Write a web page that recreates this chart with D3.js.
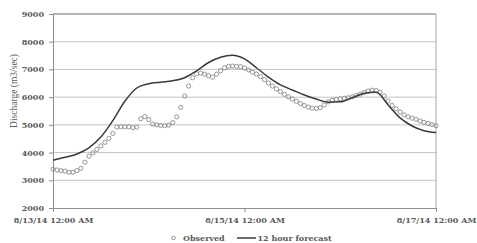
<!DOCTYPE html>
<html>
<head>
<meta charset="utf-8">
<title>Discharge: observed vs 12 hour forecast</title>
<script src="https://cdn.jsdelivr.net/npm/d3@7"></script>
<style>
  body { margin: 0; background: #fff; }
  .tick text { font-family: "DejaVu Serif", serif; font-weight: bold; font-size: 8px; fill: #595959; }
</style>
</head>
<body>
<div class="container"></div>
<script>
// observed discharge, one reading per hour from 8/13/14 12:00 AM
var obsStart = new Date(2014, 7, 13, 0, 0);
var observed = [
  3400, 3370, 3350, 3330, 3290, 3290, 3350, 3430, 3650, 3870,
  3990, 4110, 4240, 4370, 4510, 4690, 4920, 4930, 4930, 4930,
  4900, 4920, 5220, 5300, 5190, 5030, 5000, 4980, 4970, 4990,
  5080, 5290, 5630, 6040, 6400, 6700, 6840, 6870, 6830, 6770,
  6720, 6830, 6950, 7060, 7110, 7120, 7110, 7100, 7050, 6980,
  6900, 6830, 6740, 6630, 6510, 6400, 6300, 6200, 6100, 6010,
  5930, 5850, 5770, 5700, 5640, 5600, 5590, 5620, 5720, 5830,
  5890, 5920, 5940, 5960, 5980, 6010, 6060, 6110, 6170, 6220,
  6250, 6240, 6180, 6040, 5860, 5700, 5580, 5460, 5360, 5290,
  5240, 5200, 5140, 5090, 5050, 5010, 4970
];

// 12 hour forecast (hours after start, value)
var forecastHours = [0, 3, 6, 9, 12, 15, 18, 21, 24, 27, 30, 33, 36, 39, 42, 45, 48,
                     51, 54, 57, 60, 63, 66, 69, 72, 75, 78, 81, 84, 87, 90, 93, 96];
var forecast = [3720, 3830, 3950, 4170, 4560, 5150, 5850, 6330, 6480, 6540, 6590, 6700,
                6950, 7250, 7440, 7510, 7380, 7060, 6720, 6440, 6260, 6080, 5930, 5820,
                5830, 5980, 6140, 6180, 5720, 5250, 4960, 4790, 4720];

var yTicks = [2000, 3000, 4000, 5000, 6000, 7000, 8000, 9000];
var xTicks = [new Date(2014, 7, 13), new Date(2014, 7, 15), new Date(2014, 7, 17)];
var legendNames = ["Observed", "12 hour forecast"];

var width = 477, height = 243;
var margin = {top: 14, right: 41, bottom: 35, left: 53};
var w = width - margin.left - margin.right,
    h = height - margin.top - margin.bottom;

function hourToDate(hr) { return d3.timeHour.offset(obsStart, hr); }

var x = d3.scaleTime().domain([xTicks[0], xTicks[2]]).range([0, w]);
var y = d3.scaleLinear().domain([2000, 9000]).range([h, 0]);

var svg = d3.select(".container").append("svg")
    .attr("width", width).attr("height", height);
var g = svg.append("g")
    .attr("transform", "translate(" + margin.left + "," + margin.top + ")");

// horizontal gridlines
g.selectAll(".grid").data(yTicks.slice(1, -1)).enter().append("line")
    .attr("x1", 0).attr("x2", w)
    .attr("y1", function(d) { return y(d); }).attr("y2", function(d) { return y(d); })
    .attr("stroke", "#c4c4c4").attr("stroke-width", 1);

// top border and right border
g.append("line").attr("x1", 0).attr("x2", w).attr("y1", y(9000)).attr("y2", y(9000))
    .attr("stroke", "#6e6e6e").attr("stroke-width", 1);
g.append("line").attr("x1", w).attr("x2", w).attr("y1", 0).attr("y2", h)
    .attr("stroke", "#a6a6a6").attr("stroke-width", 1);

// axes
var yAxis = g.append("g")
    .call(d3.axisLeft(y).tickValues(yTicks).tickSize(4).tickPadding(5).tickFormat(d3.format("d")));
var xAxis = g.append("g")
    .attr("transform", "translate(0," + h + ")")
    .call(d3.axisBottom(x).tickValues(xTicks).tickSize(4).tickPadding(5)
        .tickFormat(d3.timeFormat("%-m/%d/%y %-I:%M %p")));
[yAxis, xAxis].forEach(function(a) {
    a.select(".domain").attr("stroke", "#8c8c8c");
    a.selectAll(".tick line").attr("stroke", "#8c8c8c");
});

// y axis title
svg.append("text")
    .attr("transform", "translate(17,91) rotate(-90)")
    .attr("text-anchor", "middle")
    .style("font-family", "'Liberation Serif', serif")
    .style("font-size", "9.5px")
    .style("fill", "#595959")
    .text("Discharge (m3/sec)");

// observed circles
g.selectAll(".obs").data(observed).enter().append("circle")
    .attr("cx", function(d, i) { return x(hourToDate(i)); })
    .attr("cy", function(d) { return y(d); })
    .attr("r", 2.1)
    .attr("fill", "none")
    .attr("stroke", "#8a8a8a")
    .attr("stroke-width", 0.9);

// forecast line
var line = d3.line()
    .x(function(d, i) { return x(hourToDate(forecastHours[i])); })
    .y(function(d) { return y(d); })
    .curve(d3.curveMonotoneX);
g.append("path").datum(forecast)
    .attr("d", line)
    .attr("fill", "none")
    .attr("stroke", "#3a3a3a")
    .attr("stroke-width", 1.5);

// legend
var lg = svg.append("g").attr("transform", "translate(0,238)");
lg.append("circle").attr("cx", 173.5).attr("cy", 0).attr("r", 1.8)
    .attr("fill", "none").attr("stroke", "#8a8a8a").attr("stroke-width", 0.9);
lg.append("text").attr("x", 183).attr("y", 0).attr("dy", "0.35em")
    .style("font-family", "'DejaVu Serif', serif").style("font-weight", "bold")
    .style("font-size", "8px").style("fill", "#595959").text(legendNames[0]);
lg.append("line").attr("x1", 237).attr("x2", 256).attr("y1", 0).attr("y2", 0)
    .attr("stroke", "#3a3a3a").attr("stroke-width", 1.5);
lg.append("text").attr("x", 257.5).attr("y", 0).attr("dy", "0.35em")
    .style("font-family", "'DejaVu Serif', serif").style("font-weight", "bold")
    .style("font-size", "8px").style("fill", "#595959").text(legendNames[1]);
</script>
</body>
</html>
